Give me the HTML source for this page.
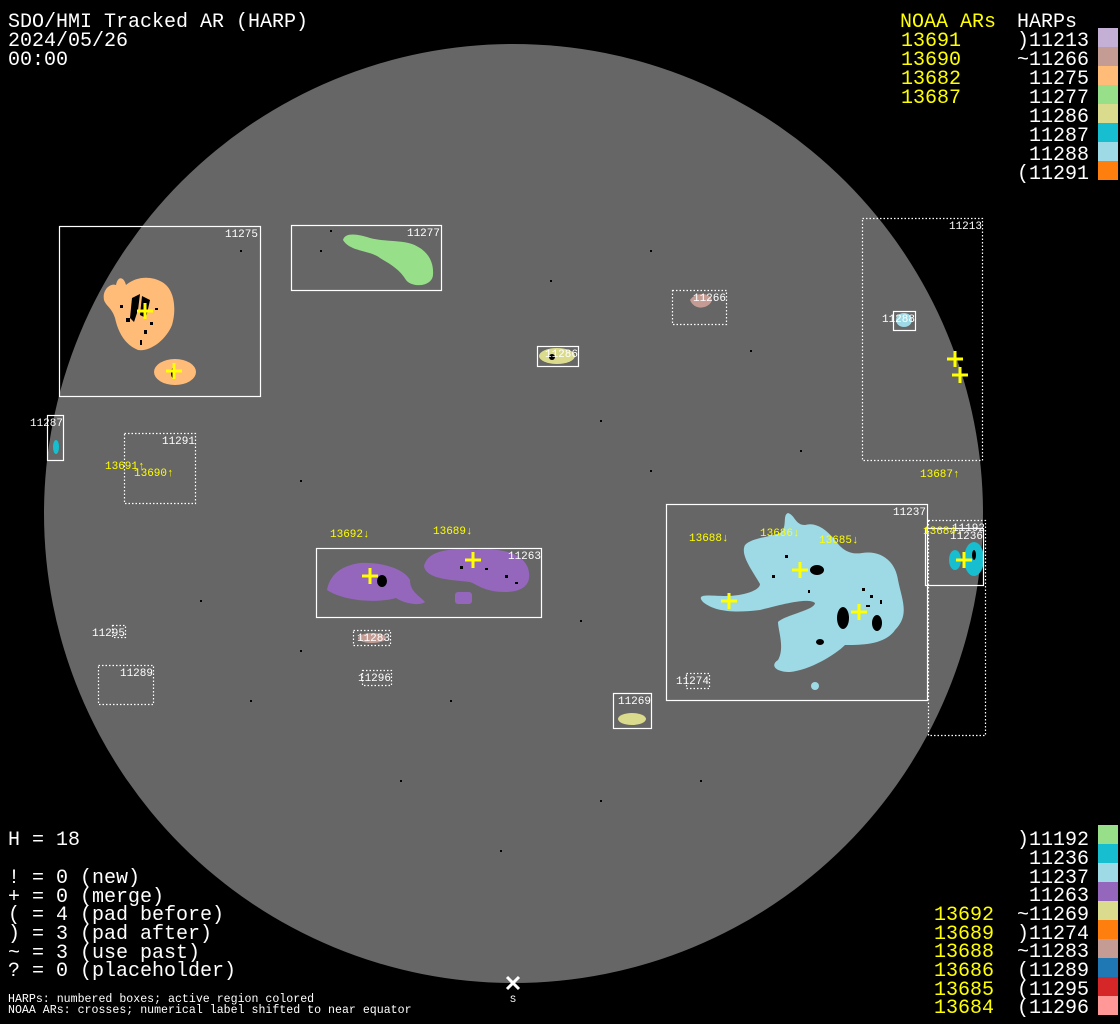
<!DOCTYPE html>
<html><head><meta charset="utf-8"><style>
html,body{margin:0;padding:0;background:#000;}
svg{display:block}
text{font-family:"Liberation Mono","DejaVu Sans Mono",monospace;}
.t{fill:#fff;font-size:20px}
.y{fill:#ffff00;font-size:20px}
.s{fill:#fff;font-size:11.6px}
.l{fill:#fff;font-size:11px}
.ly{fill:#ffff00;font-size:11px}
.b{fill:none;stroke:#fff;stroke-width:1.2}
.d{fill:none;stroke:#fff;stroke-width:1.2;stroke-dasharray:1.5 2}
.c{stroke:#ffff00;stroke-width:3;fill:none}
</style></head><body>
<svg width="1120" height="1024" viewBox="0 0 1120 1024" xmlns="http://www.w3.org/2000/svg">
<rect width="1120" height="1024" fill="#000"/>
<circle cx="513.5" cy="513.5" r="469.5" fill="#666"/>

<!-- regions -->
<path d="M104,300 C102,290 110,283 116,285 C118,275 124,277 126,285 C135,277 150,275 162,282 C176,290 176,312 172,325 C166,340 150,352 138,350 C125,345 118,332 115,318 C112,308 106,306 104,300 Z" fill="#ffbb78"/>
<ellipse cx="175" cy="372" rx="21" ry="13" fill="#ffbb78"/>
<path d="M343,240 C345,232 358,234 370,238 C385,242 400,240 412,244 C428,250 434,262 433,275 C432,287 412,288 406,280 C400,270 392,265 380,258 C370,250 350,252 343,240 Z" fill="#98df8a"/>
<path d="M690,300 C695,292 710,292 712,300 C710,308 695,312 690,300 Z" fill="#c49c94"/>
<ellipse cx="557" cy="356" rx="18" ry="8" fill="#dbdb8d"/>
<ellipse cx="904" cy="320" rx="8" ry="7" fill="#9edae5"/>
<ellipse cx="56" cy="447" rx="3" ry="7" fill="#17becf"/>
<path d="M327,590 C330,575 340,566 360,563 C385,562 405,570 410,580 C410,592 420,596 425,602 C420,606 405,604 396,598 C380,603 345,602 327,590 Z" fill="#9467bd"/>
<path d="M424,566 C428,550 450,548 475,550 C500,548 522,552 528,568 C533,585 522,592 505,592 C485,592 478,585 470,582 C455,580 426,580 424,566 Z" fill="#9467bd"/>
<rect x="455" y="592" width="17" height="12" rx="3" fill="#9467bd"/>
<path d="M703,602 C695,593 710,596 725,596 C745,596 760,590 760,584 C752,570 740,555 745,545 C752,538 765,538 780,533 C788,528 782,515 788,513 C795,515 795,525 805,525 C815,522 825,528 835,540 C842,550 850,555 862,553 C880,550 895,560 898,580 C902,600 910,615 895,630 C885,645 860,645 845,645 C835,655 810,670 790,672 C775,672 770,665 778,660 C785,648 778,630 778,622 C785,615 815,610 815,603 C808,597 780,605 760,610 C735,613 715,612 703,602 Z" fill="#9edae5"/>
<ellipse cx="815" cy="686" rx="4" ry="4" fill="#9edae5"/>
<ellipse cx="974" cy="559" rx="10" ry="17" fill="#17becf"/>
<ellipse cx="955" cy="560" rx="6" ry="10" fill="#17becf"/>
<ellipse cx="632" cy="719" rx="14" ry="6" fill="#dbdb8d"/>
<ellipse cx="372" cy="638" rx="14" ry="5" fill="#c49c94"/>

<!-- sunspots -->
<g fill="#000">
<path d="M132,298 L140,294 L138,310 L134,322 L130,318 Z"/>
<path d="M142,296 L150,300 L146,318 L140,315 Z"/>
<rect x="120" y="305" width="3" height="3"/><rect x="126" y="318" width="4" height="4"/><rect x="150" y="322" width="3" height="3"/>
<rect x="144" y="330" width="3" height="4"/><rect x="140" y="340" width="2" height="5"/><rect x="155" y="308" width="3" height="2"/>
<ellipse cx="173" cy="373" rx="2" ry="5"/>
<ellipse cx="382" cy="581" rx="5" ry="6"/>
<ellipse cx="817" cy="570" rx="7" ry="5"/>
<ellipse cx="843" cy="618" rx="6" ry="11"/>
<ellipse cx="877" cy="623" rx="5" ry="8"/>
<ellipse cx="820" cy="642" rx="4" ry="3"/>
<ellipse cx="974" cy="555" rx="2" ry="5"/>
<ellipse cx="552" cy="357" rx="3" ry="3"/>
<rect x="862" y="588" width="3" height="3"/><rect x="870" y="595" width="3" height="3"/><rect x="880" y="600" width="2" height="4"/><rect x="866" y="605" width="4" height="2"/>
<rect x="785" y="555" width="3" height="3"/><rect x="772" y="575" width="3" height="3"/><rect x="808" y="590" width="2" height="3"/>
<rect x="460" y="566" width="3" height="3"/><rect x="505" y="575" width="3" height="3"/><rect x="515" y="582" width="3" height="2"/><rect x="485" y="568" width="3" height="2"/>
<rect x="60" y="350" width="2" height="2"/><rect x="240" y="250" width="2" height="2"/><rect x="300" y="480" width="2" height="2"/><rect x="600" y="420" width="2" height="2"/><rect x="450" y="700" width="2" height="2"/><rect x="250" y="700" width="2" height="2"/><rect x="600" y="800" width="2" height="2"/><rect x="700" y="780" width="2" height="2"/><rect x="500" y="850" width="2" height="2"/><rect x="400" y="780" width="2" height="2"/><rect x="800" y="450" width="2" height="2"/><rect x="650" y="250" width="2" height="2"/><rect x="550" y="280" width="2" height="2"/><rect x="200" y="600" width="2" height="2"/><rect x="300" y="650" width="2" height="2"/><rect x="580" y="620" width="2" height="2"/><rect x="650" y="470" width="2" height="2"/><rect x="750" y="350" width="2" height="2"/><rect x="330" y="230" width="2" height="2"/><rect x="320" y="250" width="2" height="2"/>
</g>

<!-- boxes -->
<rect class="b" x="59.5" y="226.5" width="201" height="170"/>
<rect class="b" x="291.5" y="225.5" width="150" height="65"/>
<rect class="d" x="672.5" y="290.5" width="54" height="34"/>
<rect class="b" x="537.5" y="346.5" width="41" height="20"/>
<rect class="d" x="862.5" y="218.5" width="120" height="242"/>
<rect class="b" x="893.5" y="311.5" width="22" height="19"/>
<rect class="b" x="47.5" y="415.5" width="16" height="45"/>
<rect class="d" x="124.5" y="433.5" width="71" height="70"/>
<rect class="b" x="316.5" y="548.5" width="225" height="69"/>
<rect class="b" x="666.5" y="504.5" width="261" height="196"/>
<rect class="d" x="928.5" y="520.5" width="57" height="215"/>
<rect class="b" x="925.5" y="528.5" width="58" height="57"/>
<rect class="d" x="686.5" y="673.5" width="23" height="15"/>
<rect class="d" x="353.5" y="630.5" width="37" height="15"/>
<rect class="d" x="362.5" y="670.5" width="29" height="15"/>
<rect class="d" x="112.5" y="625.5" width="13" height="12"/>
<rect class="d" x="98.5" y="665.5" width="55" height="39"/>
<rect class="b" x="613.5" y="693.5" width="38" height="35"/>

<!-- box labels -->
<text class="l" x="258" y="237" text-anchor="end">11275</text>
<text class="l" x="440" y="236" text-anchor="end">11277</text>
<text class="l" x="726" y="301" text-anchor="end">11266</text>
<text class="l" x="578" y="357" text-anchor="end">11286</text>
<text class="l" x="982" y="229" text-anchor="end">11213</text>
<text class="l" x="915" y="322" text-anchor="end">11288</text>
<text class="l" x="63" y="426" text-anchor="end">11287</text>
<text class="l" x="195" y="444" text-anchor="end">11291</text>
<text class="l" x="541" y="559" text-anchor="end">11263</text>
<text class="l" x="926" y="515" text-anchor="end">11237</text>
<text class="l" x="985" y="531" text-anchor="end">11192</text>
<text class="l" x="983" y="539" text-anchor="end">11236</text>
<text class="l" x="709" y="684" text-anchor="end">11274</text>
<text class="l" x="390" y="641" text-anchor="end">11283</text>
<text class="l" x="391" y="681" text-anchor="end">11296</text>
<text class="l" x="125" y="636" text-anchor="end">11295</text>
<text class="l" x="153" y="676" text-anchor="end">11289</text>
<text class="l" x="651" y="704" text-anchor="end">11269</text>

<!-- NOAA labels -->
<text class="ly" x="105" y="469">13691↑</text>
<text class="ly" x="134" y="476">13690↑</text>
<text class="ly" x="920" y="477">13687↑</text>
<text class="ly" x="330" y="537">13692↓</text>
<text class="ly" x="433" y="534">13689↓</text>
<text class="ly" x="689" y="541">13688↓</text>
<text class="ly" x="760" y="536">13686↓</text>
<text class="ly" x="819" y="543">13685↓</text>
<text class="ly" x="923" y="534">13684↓</text>

<!-- crosses -->
<g class="c">
<path d="M137,311h16M145,303v16"/>
<path d="M166,371h16M174,363v16"/>
<path d="M947,359h16M955,351v16"/>
<path d="M952,375h16M960,367v16"/>
<path d="M362,576h16M370,568v16"/>
<path d="M465,560h16M473,552v16"/>
<path d="M721,601h16M729,593v16"/>
<path d="M792,570h16M800,562v16"/>
<path d="M851,612h16M859,604v16"/>
<path d="M956,560h16M964,552v16"/>
</g>

<!-- south marker -->
<path d="M507,977l12,12M519,977l-12,12" stroke="#fff" stroke-width="3"/>
<text class="l" x="513" y="1002" text-anchor="middle" style="font-size:10px">S</text>

<!-- top-left -->
<text class="t" x="8" y="27">SDO/HMI Tracked AR (HARP)</text>
<text class="t" x="8" y="46">2024/05/26</text>
<text class="t" x="8" y="65">00:00</text>

<!-- top-right legend -->
<text class="y" x="900" y="27">NOAA ARs</text>
<text class="t" x="1017" y="27">HARPs</text>
<text class="y" x="901" y="46">13691</text>
<text class="y" x="901" y="65">13690</text>
<text class="y" x="901" y="84">13682</text>
<text class="y" x="901" y="103">13687</text>
<g text-anchor="end">
<text class="t" x="1089" y="46">)11213</text>
<text class="t" x="1089" y="65">~11266</text>
<text class="t" x="1089" y="84">11275</text>
<text class="t" x="1089" y="103">11277</text>
<text class="t" x="1089" y="122">11286</text>
<text class="t" x="1089" y="141">11287</text>
<text class="t" x="1089" y="160">11288</text>
<text class="t" x="1089" y="179">(11291</text>
</g>
<rect x="1098" y="28" width="20" height="19" fill="#c5b0d5"/>
<rect x="1098" y="47" width="20" height="19" fill="#c49c94"/>
<rect x="1098" y="66" width="20" height="19" fill="#ffbb78"/>
<rect x="1098" y="85" width="20" height="19" fill="#98df8a"/>
<rect x="1098" y="104" width="20" height="19" fill="#dbdb8d"/>
<rect x="1098" y="123" width="20" height="19" fill="#17becf"/>
<rect x="1098" y="142" width="20" height="19" fill="#9edae5"/>
<rect x="1098" y="161" width="20" height="19" fill="#ff7f0e"/>

<!-- bottom-left -->
<text class="t" x="8" y="845">H = 18</text>
<text class="t" x="8" y="883">! = 0 (new)</text>
<text class="t" x="8" y="902">+ = 0 (merge)</text>
<text class="t" x="8" y="920">( = 4 (pad before)</text>
<text class="t" x="8" y="939">) = 3 (pad after)</text>
<text class="t" x="8" y="958">~ = 3 (use past)</text>
<text class="t" x="8" y="976">? = 0 (placeholder)</text>
<text class="s" x="8" y="1002">HARPs: numbered boxes; active region colored</text>
<text class="s" x="8" y="1013">NOAA ARs: crosses; numerical label shifted to near equator</text>

<!-- bottom-right legend -->
<g text-anchor="end">
<text class="t" x="1089" y="845">)11192</text>
<text class="t" x="1089" y="864">11236</text>
<text class="t" x="1089" y="883">11237</text>
<text class="t" x="1089" y="901">11263</text>
<text class="t" x="1089" y="920">~11269</text>
<text class="t" x="1089" y="939">)11274</text>
<text class="t" x="1089" y="957">~11283</text>
<text class="t" x="1089" y="976">(11289</text>
<text class="t" x="1089" y="995">(11295</text>
<text class="t" x="1089" y="1013">(11296</text>
</g>
<text class="y" x="934" y="920">13692</text>
<text class="y" x="934" y="939">13689</text>
<text class="y" x="934" y="957">13688</text>
<text class="y" x="934" y="976">13686</text>
<text class="y" x="934" y="995">13685</text>
<text class="y" x="934" y="1013">13684</text>
<rect x="1098" y="825" width="20" height="19" fill="#98df8a"/>
<rect x="1098" y="844" width="20" height="19" fill="#17becf"/>
<rect x="1098" y="863" width="20" height="19" fill="#9edae5"/>
<rect x="1098" y="882" width="20" height="19" fill="#9467bd"/>
<rect x="1098" y="901" width="20" height="19" fill="#dbdb8d"/>
<rect x="1098" y="920" width="20" height="19" fill="#ff7f0e"/>
<rect x="1098" y="939" width="20" height="19" fill="#c49c94"/>
<rect x="1098" y="958" width="20" height="19" fill="#1f77b4"/>
<rect x="1098" y="977" width="20" height="19" fill="#d62728"/>
<rect x="1098" y="996" width="20" height="19" fill="#ff9896"/>
</svg>
</body></html>
